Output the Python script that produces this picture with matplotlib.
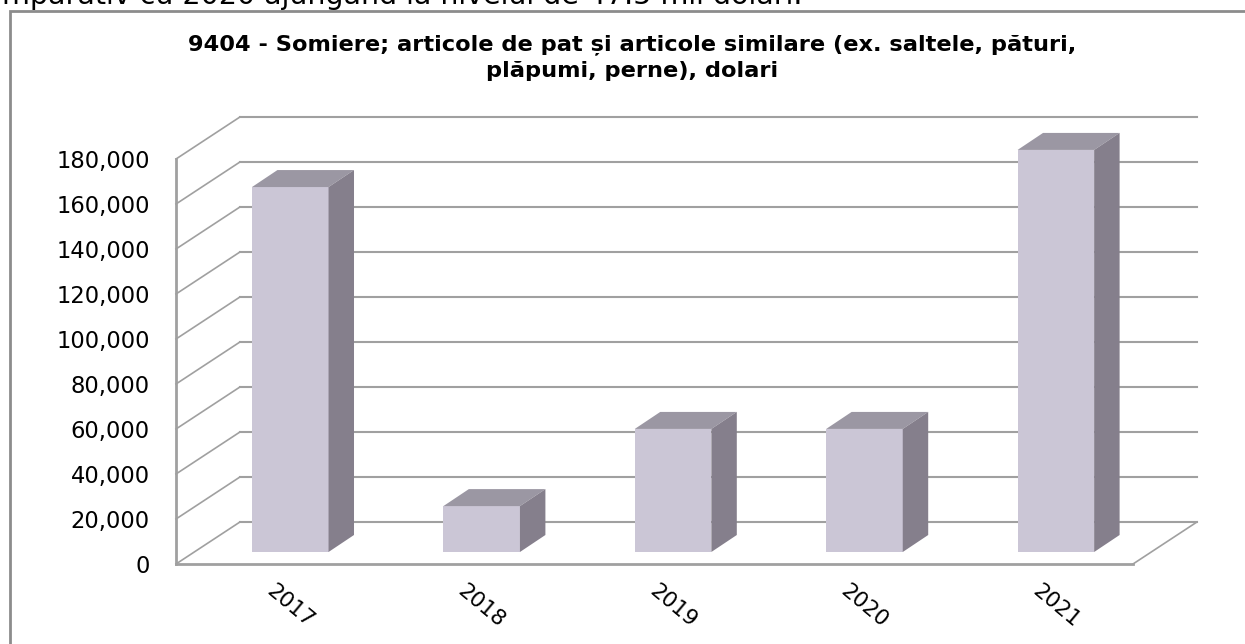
import matplotlib
matplotlib.use("Agg")
import matplotlib.pyplot as plt
from matplotlib.patches import Polygon, Rectangle

years = ["2017", "2018", "2019", "2020", "2021"]
values = [162200, 20400, 54700, 54700, 178700]
y_ticks = [0, 20000, 40000, 60000, 80000, 100000, 120000, 140000, 160000, 180000]
title = "9404 - Somiere; articole de pat și articole similare (ex. saltele, pături,\nplăpumi, perne), dolari"
clipped_text = "mparativ cu 2020 ajungând la nivelul de 47.5 mii dolari."

W, H = 1245, 644
fig = plt.figure(figsize=(W / 100, H / 100), dpi=100, facecolor="white")
plt.rcParams["font.family"] = ["DejaVu Sans"]

L, R, B, T = 176, 1133, 564, 159
ax = fig.add_axes([L / W, 1 - B / H, (R - L) / W, (B - T) / H])
ax.set_xlim(-0.5, 4.5)
ax.set_ylim(0, 180000)
ax.patch.set_alpha(0)
for s in ax.spines.values():
    s.set_visible(False)

GRID = "#a0a0a0"
WALL_DX, WALL_DY = 0.334, 18667
BASE_DX, BASE_DY = 0.097, 5333
DEPTH_DX, DEPTH_DY = 0.133, 7556
BAR_W = 0.40
FRONT, TOP, SIDE = "#cbc6d6", "#9b97a3", "#857f8c"

for v in y_ticks:
    ax.plot([-0.5, -0.5 + WALL_DX], [v, v + WALL_DY], color=GRID, lw=1.2, clip_on=False, zorder=1)
    ax.plot([-0.5 + WALL_DX, 4.5 + WALL_DX], [v + WALL_DY, v + WALL_DY], color=GRID, lw=1.5,
            clip_on=False, zorder=1)
ax.plot([-0.5, -0.5], [0, 180000], color=GRID, lw=2, clip_on=False, zorder=2)
ax.plot([-0.5, 4.5], [0, 0], color=GRID, lw=2, clip_on=False, zorder=2)
ax.plot([4.5, 4.5 + WALL_DX], [0, WALL_DY], color=GRID, lw=1.2, clip_on=False, zorder=2)

for i, v in enumerate(values):
    x0 = i + BASE_DX - BAR_W / 2
    x1 = x0 + BAR_W
    y0 = BASE_DY
    y1 = BASE_DY + v
    ax.add_patch(Rectangle((x0, y0), BAR_W, v, fc=FRONT, ec="none", clip_on=False, zorder=3))
    ax.add_patch(Polygon([(x0, y1), (x1, y1), (x1 + DEPTH_DX, y1 + DEPTH_DY), (x0 + DEPTH_DX, y1 + DEPTH_DY)],
                         fc=TOP, ec="none", clip_on=False, zorder=3))
    ax.add_patch(Polygon([(x1, y0), (x1 + DEPTH_DX, y0 + DEPTH_DY), (x1 + DEPTH_DX, y1 + DEPTH_DY), (x1, y1)],
                         fc=SIDE, ec="none", clip_on=False, zorder=3))

ax.set_yticks(y_ticks)
ax.set_yticklabels([f"{v:,}" for v in y_ticks], fontsize=16.3, color="#000000")
ax.set_xticks([i + BASE_DX for i in range(5)])
ax.set_xticklabels(years, fontsize=15.5, rotation=-40, color="#000000", ha="center", va="top")
ax.tick_params(axis="both", length=0)
ax.tick_params(axis="y", pad=19)
ax.tick_params(axis="x", pad=12)

fig.text(632 / W, 1 - 58 / H, title, ha="center", va="center", fontsize=16.2,
         fontweight="bold", color="#000000", linespacing=1.38)
fig.text(802 / W, 1 - 4 / H, clipped_text, ha="right", va="baseline", fontsize=20.5, color="#000000")
fig.add_artist(Rectangle((10 / W, -0.05), 1.2, 1 - 11 / H + 0.05, transform=fig.transFigure,
                         fc="none", ec="#8c8c8c", lw=2))
fig.savefig("out.png", dpi=100)
